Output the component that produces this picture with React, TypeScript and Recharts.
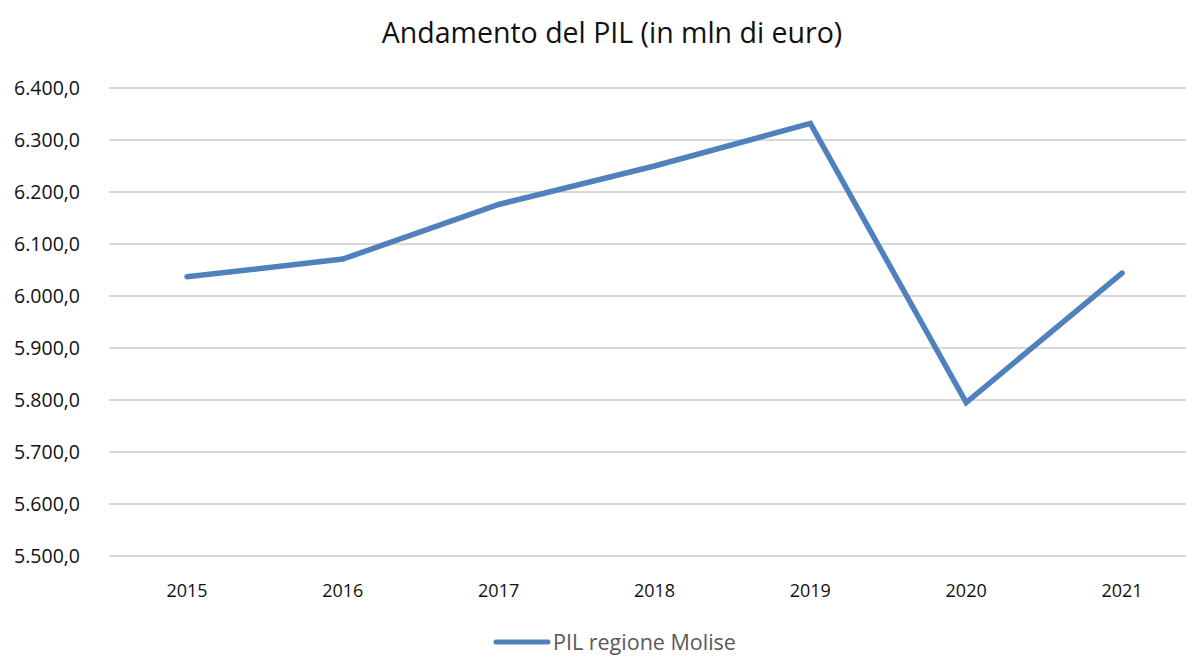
import { LineChart, Line, XAxis, YAxis, CartesianGrid } from "recharts"

const years = ["2015", "2016", "2017", "2018", "2019", "2020", "2021"]
const pil = [6037, 6071, 6176, 6250, 6332, 5795, 6044]
const yTicks = [5500, 5600, 5700, 5800, 5900, 6000, 6100, 6200, 6300, 6400]

const data = years.map((year, i) => ({ year, pil: pil[i] }))

const FONT = "'Open Sans', sans-serif"
const BLUE = "#4F81BD"

// 6400 -> "6.400,0"
function formatIt(v: number) {
  const [int, dec] = v.toFixed(1).split(".")
  return int.replace(/\B(?=(\d{3})+(?!\d))/g, ".") + "," + dec
}

export default function App() {
  return (
    <div
      style={{
        position: "absolute",
        left: 0,
        top: 0,
        width: 1186,
        height: 659,
        overflow: "hidden",
        background: "#fff",
        fontFamily: FONT,
      }}
    >
      <div
        style={{
          position: "absolute",
          top: 13,
          left: 0,
          width: 1224,
          textAlign: "center",
          fontSize: 28.5,
          color: "#111",
        }}
      >
        Andamento del PIL (in mln di euro)
      </div>
      <LineChart
        width={1200}
        height={659}
        data={data}
        margin={{ top: 88, right: 0, bottom: 63, left: 0 }}
        style={{ fontFamily: FONT }}
      >
        <CartesianGrid vertical={false} stroke="#d9d9d9" strokeWidth={2} />
        <XAxis
          dataKey="year"
          axisLine={false}
          tickLine={false}
          tickMargin={22}
          height={40}
          padding={{ left: 78, right: 78 }}
          tick={{ fill: "#111", fontSize: 18 }}
        />
        <YAxis
          domain={[5500, 6400]}
          ticks={yTicks}
          tickFormatter={formatIt}
          axisLine={false}
          tickLine={false}
          width={109}
          tickMargin={23}
          tick={{ fill: "#111", fontSize: 19.5 }}
        />
        <Line
          dataKey="pil"
          name="PIL regione Molise"
          stroke={BLUE}
          strokeWidth={5.5}
          strokeLinecap="round"
          dot={false}
          activeDot={false}
          isAnimationActive={false}
        />
      </LineChart>
      <div
        style={{
          position: "absolute",
          top: 628,
          left: 493,
          display: "flex",
          alignItems: "center",
          whiteSpace: "nowrap",
          lineHeight: "27px",
        }}
      >
        <svg width={58} height={10} style={{ marginRight: 2 }}>
          <line x1={3} y1={5} x2={55} y2={5} stroke={BLUE} strokeWidth={5} strokeLinecap="round" />
        </svg>
        <span style={{ fontSize: 21.5, color: "#595959" }}>PIL regione Molise</span>
      </div>
    </div>
  )
}
